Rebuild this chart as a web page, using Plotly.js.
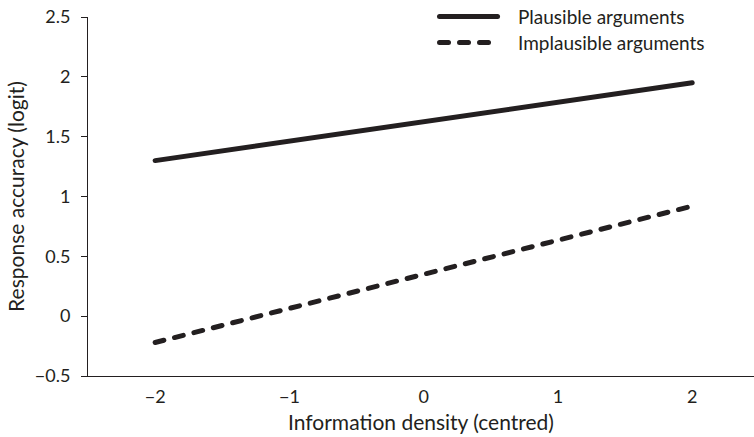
<!DOCTYPE html>
<html>
<head>
<meta charset="utf-8">
<script src="https://cdn.plot.ly/plotly-3.0.1.min.js"></script>
<style>
html,body{margin:0;padding:0;background:#fff;}
#chart{width:754px;height:437px;}
path.js-line{stroke-linecap:round;}
.shapelayer path{stroke-linecap:round;}
</style>
</head>
<body>
<div id="chart"></div>
<script>
const xValues = [-2, 2];
const plausible = [1.30, 1.95];
const implausible = [-0.22, 0.92];
const seriesNames = ["Plausible arguments", "Implausible arguments"];
const seriesDash = ["solid", "9px,11px"];
const xTicks = [-2, -1, 0, 1, 2];
const xTickText = ["\u22122", "\u22121", "0", "1", "2"];
const yTicks = [-0.5, 0, 0.5, 1, 1.5, 2, 2.5];
const yTickText = ["\u22120.5", "0", "0.5", "1", "1.5", "2", "2.5"];

const ink = "#231f20";
const fontFam = "Lato, 'Open Sans', sans-serif";

const traces = [
  {x: xValues, y: plausible, name: seriesNames[0], mode: "lines",
   line: {color: ink, width: 5, dash: seriesDash[0]}},
  {x: xValues, y: implausible, name: seriesNames[1], mode: "lines",
   line: {color: ink, width: 5, dash: seriesDash[1]}}
];

// custom legend (key lines + labels), placed in paper coordinates
const legendRowsY = [1.0014, 0.929];
const shapes = seriesNames.map((n, i) => ({
  type: "line", xref: "paper", yref: "paper",
  x0: 0.5278, x1: 0.6149, y0: legendRowsY[i], y1: legendRowsY[i],
  line: {color: ink, width: 5, dash: seriesDash[i]}
}));
const annotations = seriesNames.map((n, i) => ({
  text: n, xref: "paper", yref: "paper", x: 0.642, y: legendRowsY[i],
  xanchor: "left", yanchor: "middle", showarrow: false,
  font: {family: fontFam, size: 19, color: ink}
}));

const layout = {
  width: 754, height: 437,
  margin: {l: 88, r: 0, t: 17, b: 61},
  paper_bgcolor: "#fff", plot_bgcolor: "#fff",
  font: {family: fontFam, size: 18, color: ink},
  showlegend: false,
  shapes: shapes,
  annotations: annotations,
  xaxis: {range: [-2.5, 2.46], tickvals: xTicks, ticktext: xTickText,
          showgrid: false, zeroline: false, showline: true, linecolor: ink, linewidth: 1,
          ticks: "", ticklen: 0, tickfont: {size: 18, color: ink}, ticklabelstandoff: 4,
          title: {text: "Information density (centred)", font: {size: 21, color: ink}, standoff: 9}},
  yaxis: {range: [-0.5, 2.5], tickvals: yTicks, ticktext: yTickText,
          showgrid: false, zeroline: false, showline: true, linecolor: ink, linewidth: 1,
          ticks: "outside", ticklen: 6, tickcolor: ink, tickfont: {size: 18, color: ink},
          ticklabelstandoff: 7,
          title: {text: "Response accuracy (logit)", font: {size: 21, color: ink}, standoff: 4}}
};

Plotly.newPlot("chart", traces, layout, {displayModeBar: false, staticPlot: true});
</script>
</body>
</html>
